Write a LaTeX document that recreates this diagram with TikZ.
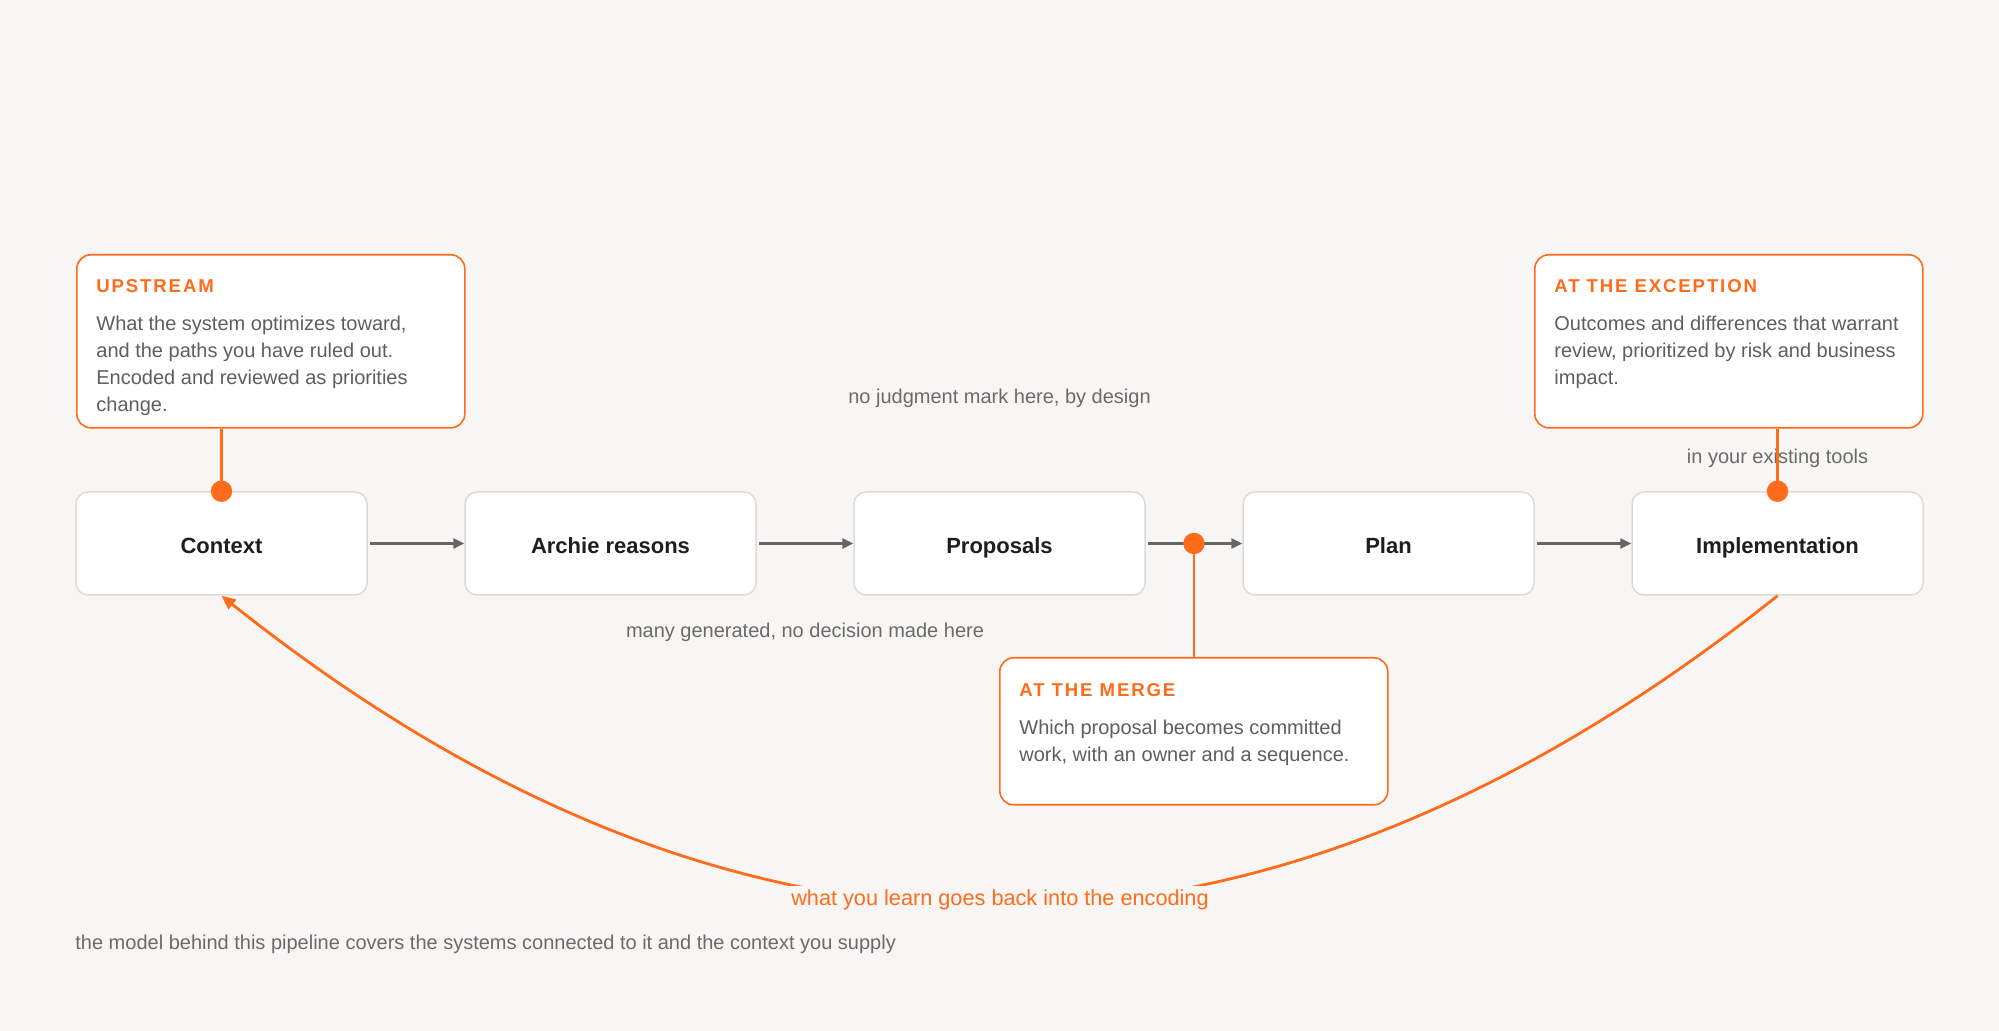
\documentclass[tikz,border=0pt]{standalone}
\usepackage{fontspec}
\setmainfont{Liberation Sans}
\newfontfamily\ttlfont{Liberation Sans}[LetterSpace=10]
\usetikzlibrary{arrows.meta,calc}
\definecolor{bg}{HTML}{F7F6F4}
\definecolor{acc}{HTML}{FF6B1A}
\definecolor{pborder}{HTML}{DDDBD8}
\definecolor{arr}{HTML}{666666}
\definecolor{lbl}{HTML}{1E1E1E}
\definecolor{bodyc}{HTML}{5E5E5E}
\definecolor{notec}{HTML}{6A6A6A}
\begin{document}
\begin{tikzpicture}[x=0.5pt,y=-0.5pt,
 pbox/.style={draw=pborder, line width=0.75pt, fill=white, rounded corners=6pt,
   minimum width=145.5pt, minimum height=51.5pt, inner sep=0pt,
   text height=11pt, text depth=1.2pt,
   font=\fontsize{11}{13}\selectfont\bfseries, text=lbl},
 cbox/.style={draw=acc, line width=0.8pt, fill=white, rounded corners=7pt,
   anchor=north west, inner sep=0pt, minimum width=194pt},
 ttl/.style={anchor=base west, inner sep=0pt, text=acc,
   font=\ttlfont\bfseries\fontsize{9.3}{11}\selectfont},
 bodytxt/.style={anchor=base west, inner sep=0pt, text=bodyc,
   font=\fontsize{10}{12}\selectfont},
 notetxt/.style={anchor=base, inner sep=0pt, text=notec,
   font=\fontsize{10}{12}\selectfont},
 flow/.style={draw=arr, line width=1.3pt, -{Triangle[length=5.5pt,width=5pt]}, shorten <=1pt},
 tie/.style={draw=acc, line width=1.2pt},
 dot/.style={circle, fill=acc, inner sep=0pt, minimum size=10.7pt},
 loop/.style={draw=acc, line width=1.4pt, -{Triangle[length=7pt,width=6pt]}},
]
\fill[bg] (0,0) rectangle (1999,1031);
\useasboundingbox (0,0) rectangle (1999,1031);

% process boxes
\node[pbox] (ctx)  at (221.5,543.5)  {Context};
\node[pbox] (arch) at (610.5,543.5)  {Archie reasons};
\node[pbox] (prop) at (999.5,543.5)  {Proposals};
\node[pbox] (plan) at (1388.5,543.5) {Plan};
\node[pbox] (impl) at (1777.5,543.5) {Implementation};

% feedback loop
\draw[loop] (impl.south) .. controls (1258.7,1009) and (740.3,1009) .. (ctx.south);
\node[anchor=base, fill=bg, inner sep=2pt, text=acc, font=\fontsize{10.85}{13}\selectfont]
  (learn) at (1000,906) {what you learn goes back into the encoding};

% flow arrows
\draw[flow] (ctx) -- (arch);
\draw[flow] (arch) -- (prop);
\draw[flow] (prop) -- (plan);
\draw[flow] (plan) -- (impl);

% callouts
\node[cbox, minimum height=86.5pt] (up)  at (76,254)   {};
\node[cbox, minimum height=86.5pt] (exc) at (1534,254) {};
\node[cbox, minimum height=73.5pt] (mrg) at (999,657)  {};

\node[ttl] (upT) at (96,293) {UPSTREAM};
\node[bodytxt] (upA) at (96,331) {What the system optimizes toward,};
\node[bodytxt] (upB) at (96,358) {and the paths you have ruled out.};
\node[bodytxt] (upC) at (96,385) {Encoded and reviewed as priorities};
\node[bodytxt] (upD) at (96,412) {change.};

\node[ttl] (excT) at (1554,293) {AT THE EXCEPTION};
\node[bodytxt] (excA) at (1554,331) {Outcomes and differences that warrant};
\node[bodytxt] (excB) at (1554,358) {review, prioritized by risk and business};
\node[bodytxt] (excC) at (1554,385) {impact.};

\node[ttl] (mrgT) at (1019,697) {AT THE MERGE};
\node[bodytxt] (mrgA) at (1019,735) {Which proposal becomes committed};
\node[bodytxt] (mrgB) at (1019,762) {work, with an owner and a sequence.};

% notes
\node[notetxt] (tools) at (1777.5,464) {in your existing tools};
\node[notetxt] (nojudge) at (999.5,404) {no judgment mark here, by design};
\node[notetxt] (many) at (805,638) {many generated, no decision made here};
\node[notetxt, anchor=base west] (model) at (75,950)
  {the model behind this pipeline covers the systems connected to it and the context you supply};

% ties and dots
\coordinate (c1) at (ctx.north);
\coordinate (c3) at (impl.north);
\coordinate (c2) at ($(prop.east)!0.5!(plan.west)$);
\draw[tie] (up.south -| c1) -- (c1);
\draw[tie] (exc.south -| c3) -- (c3);
\draw[tie] (c2) -- (mrg.north -| c2);
\node[dot] (d1) at (c1) {};
\node[dot] (d3) at (c3) {};
\node[dot] (d2) at (c2) {};
\end{tikzpicture}
\end{document}
